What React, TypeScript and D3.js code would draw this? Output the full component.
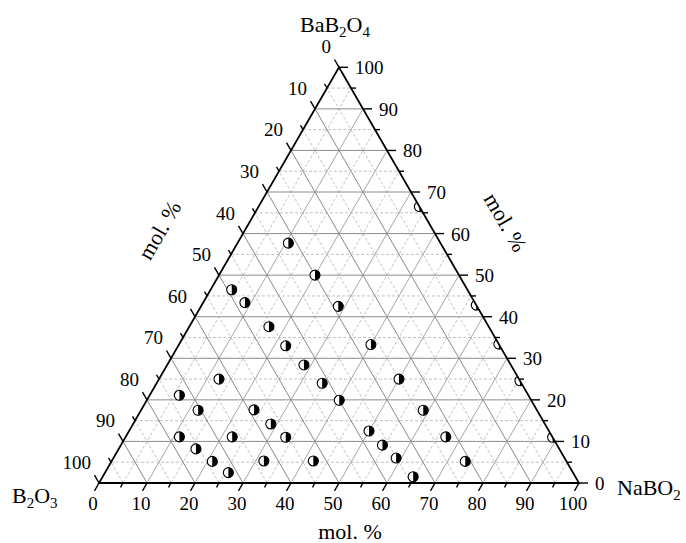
import React from 'react';
import * as d3 from 'd3';

// compositions in mol.% : [B2O3, NaBO2, BaB2O4]
const b2o3 = [31.7, 30, 49.1, 47.9, 28.9, 45.8, 44.6, 26.7, 43.1, 41.5, 62.5, 25, 72.7, 40, 70.6, 58.9,
  23.7, 57.1, 37.5, 77.7, 66.7, 55.6, 22.2, 36.4, 75.7, 35.1, 73.8, 63, 52.7, 21.1, 71.8, 33.8];
const nabo2 = [10.6, 20, 4.4, 8.7, 28.6, 16.6, 22.4, 40, 28.5, 34.5, 12.5, 50, 6.2, 40.1, 11.9, 23.5,
  58.8, 28.7, 50, 11.2, 22.2, 33.4, 66.7, 54.5, 16.1, 58.9, 21, 31.7, 42, 73.7, 25.7, 64.7];
const bab2o4 = [57.7, 50, 46.5, 43.4, 42.5, 37.6, 33, 33.3, 28.4, 24, 25, 25, 21.1, 19.9, 17.5, 17.6,
  17.5, 14.2, 12.5, 11.1, 11.1, 11, 11.1, 9.1, 8.2, 6, 5.2, 5.3, 5.3, 5.2, 2.5, 1.5];

// points lying on the NaBO2-BaB2O4 edge (B2O3 = 0)
const edgeBaB2O4 = [66.5, 42.8, 33.4, 24.6, 11];

const ticks = d3.range(0, 101, 10);
const minorTicks = d3.range(5, 100, 10);
const gridVals = d3.range(5, 100, 5);

const Width = 686;
const Height = 543;
const x0 = 99;
const y0 = 483;
const side = 480;
const tri = side * Math.sqrt(3) / 2;

const xScale = d3.scaleLinear().domain([0, 100]).range([x0, x0 + side]);
const yScale = d3.scaleLinear().domain([0, 100]).range([y0, y0 - tri]);

// b = NaBO2, c = BaB2O4
const proj = (b: number, c: number): [number, number] => [xScale(b + c / 2), yScale(c)];

const cos60 = 0.5;
const sin60 = Math.sqrt(3) / 2;

const font = "'Liberation Serif', 'Times New Roman', serif";

const Marker = ({ x, y, r = 5 }: { x: number; y: number; r?: number }) => (
  <g transform={`translate(${x},${y})`}>
    <circle r={r} fill="white" stroke="black" strokeWidth={1.1} />
    <path d={`M0,${-r}A${r},${r} 0 0 1 0,${r}Z`} fill="black" />
  </g>
);

const App = () => {
  const line = d3.line();
  const A = proj(0, 0);
  const B = proj(100, 0);
  const C = proj(0, 100);

  const grid: JSX.Element[] = [];
  gridVals.forEach((v) => {
    const major = v % 10 === 0;
    const dash = major ? undefined : '3,2';
    const minorCol = '#c2c2c2';
    // constant BaB2O4 (horizontal)
    grid.push(<path key={`c${v}`} d={line([proj(0, v), proj(100 - v, v)]) as string}
      stroke={major ? '#8c8c8c' : minorCol} strokeWidth={1} strokeDasharray={dash} fill="none" />);
    // constant NaBO2 (parallel to left edge)
    grid.push(<path key={`b${v}`} d={line([proj(v, 0), proj(v, 100 - v)]) as string}
      stroke={major ? '#a6a6a6' : minorCol} strokeWidth={1} strokeDasharray={dash} fill="none" />);
    // constant B2O3 (parallel to right edge)
    grid.push(<path key={`a${v}`} d={line([proj(100 - v, 0), proj(0, 100 - v)]) as string}
      stroke={major ? '#888888' : minorCol} strokeWidth={1} strokeDasharray={dash} fill="none" />);
  });

  const tickMarks: JSX.Element[] = [];
  const tickLabels: JSX.Element[] = [];
  const addTicks = (vals: number[], len: number, keyp: string, withLabel: boolean) => {
    vals.forEach((v) => {
      // bottom axis: NaBO2
      const [bx, by] = proj(v, 0);
      tickMarks.push(<line key={`${keyp}b${v}`} x1={bx} y1={by} x2={bx - len * cos60} y2={by + len * sin60} stroke="black" strokeWidth={1.4} />);
      // left axis: B2O3 (0 at top)
      const [lx, ly] = proj(0, 100 - v);
      tickMarks.push(<line key={`${keyp}l${v}`} x1={lx} y1={ly} x2={lx - len * cos60} y2={ly - len * sin60} stroke="black" strokeWidth={1.4} />);
      // right axis: BaB2O4
      const [rx, ry] = proj(100 - v, v);
      tickMarks.push(<line key={`${keyp}r${v}`} x1={rx} y1={ry} x2={rx + len} y2={ry} stroke="black" strokeWidth={1.4} />);
      if (withLabel) {
        tickLabels.push(<text key={`tb${v}`} x={bx - 6} y={by + 27} textAnchor="middle">{v}</text>);
        tickLabels.push(<text key={`tl${v}`} x={lx - 8} y={ly - 14} textAnchor="end">{v}</text>);
        tickLabels.push(<text key={`tr${v}`} x={rx + 16} y={ry + 7} textAnchor="start">{v}</text>);
      }
    });
  };
  addTicks(ticks, 9, 'M', true);
  addTicks(minorTicks, 5, 'm', false);

  const triPath = `M${A}L${B}L${C}Z`;

  return (
    <svg width={Width} height={Height} style={{ position: 'absolute', left: 0, top: 0, background: 'white' }}
      fontFamily={font}>
      <defs>
        <clipPath id="triClip"><path d={triPath} /></clipPath>
      </defs>
      <g>{grid}</g>
      <g clipPath="url(#triClip)">
        {edgeBaB2O4.map((c, i) => {
          const [x, y] = proj(100 - c, c);
          return <Marker key={`e${i}`} x={x} y={y} />;
        })}
      </g>
      <path d={triPath} fill="none" stroke="black" strokeWidth={1.8} strokeLinejoin="miter" />
      <g>{tickMarks}</g>
      <g fontSize={19}>{tickLabels}</g>
      <g>
        {b2o3.map((a, i) => {
          const [x, y] = proj(nabo2[i], bab2o4[i]);
          return <Marker key={i} x={x} y={y} />;
        })}
      </g>
      <g fontSize={22}>
        <text x={335} y={32} textAnchor="middle">BaB<tspan fontSize={15} dy={5}>2</tspan><tspan dy={-5}>O</tspan><tspan fontSize={15} dy={5}>4</tspan></text>
        <text x={12} y={503}>B<tspan fontSize={15} dy={5}>2</tspan><tspan dy={-5}>O</tspan><tspan fontSize={15} dy={5}>3</tspan></text>
        <text x={617} y={495}>NaBO<tspan fontSize={15} dy={5}>2</tspan></text>
      </g>
      <g fontSize={22}>
        <text x={350} y={539} textAnchor="middle">mol. %</text>
        <text transform={`translate(166,234) rotate(-60)`} textAnchor="middle">mol. %</text>
        <text transform={`translate(499,226) rotate(60)`} textAnchor="middle">mol. %</text>
      </g>
    </svg>
  );
};

export default App;
